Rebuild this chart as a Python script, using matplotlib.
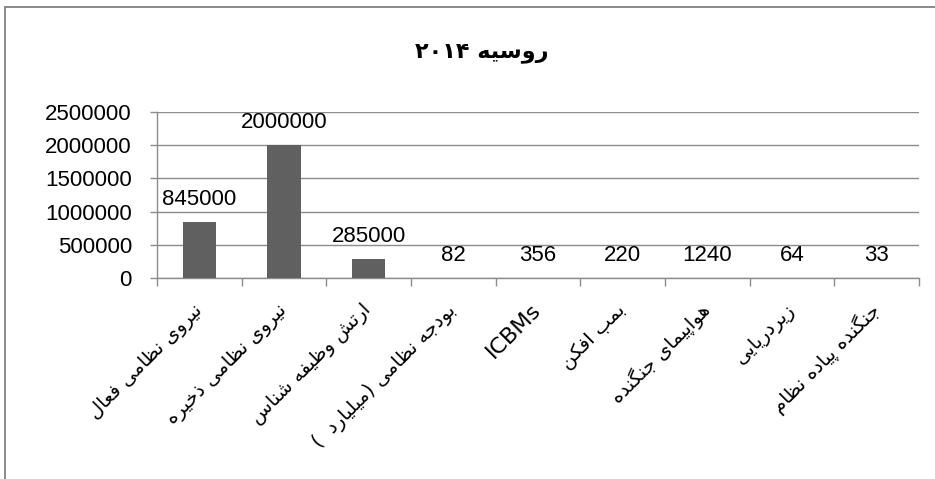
import matplotlib
matplotlib.use("Agg")
import matplotlib.pyplot as plt
from matplotlib.ticker import FixedLocator, NullFormatter, FuncFormatter
from matplotlib.patches import Rectangle

# ---- data -------------------------------------------------------------
title_text = "روسیه ۲۰۱۴"
categories = [
    "نیروی نظامی فعال",
    "نیروی نظامی ذخیره",
    "ارتش وظیفه شناس",
    "بودجه نظامی (میلیارد  )",
    "ICBMs",
    "بمب افکن",
    "هواپیمای جنگنده",
    "زیردریایی",
    "جنگنده پیاده نظام",
]
values = [845000, 2000000, 285000, 82, 356, 220, 1240, 64, 33]
y_ticks = [0, 500000, 1000000, 1500000, 2000000, 2500000]

# ---- minimal Arabic/Persian shaping (matplotlib has no text shaping) ---
# letter -> (isolated, final, initial, medial); None for right-joining only
FORMS = {
    "ا": ("\uFE8D", "\uFE8E", None, None),
    "ب": ("\uFE8F", "\uFE90", "\uFE91", "\uFE92"),
    "پ": ("\uFB56", "\uFB57", "\uFB58", "\uFB59"),
    "ت": ("\uFE95", "\uFE96", "\uFE97", "\uFE98"),
    "ج": ("\uFE9D", "\uFE9E", "\uFE9F", "\uFEA0"),
    "خ": ("\uFEA5", "\uFEA6", "\uFEA7", "\uFEA8"),
    "د": ("\uFEA9", "\uFEAA", None, None),
    "ذ": ("\uFEAB", "\uFEAC", None, None),
    "ر": ("\uFEAD", "\uFEAE", None, None),
    "ز": ("\uFEAF", "\uFEB0", None, None),
    "س": ("\uFEB1", "\uFEB2", "\uFEB3", "\uFEB4"),
    "ش": ("\uFEB5", "\uFEB6", "\uFEB7", "\uFEB8"),
    "ط": ("\uFEC1", "\uFEC2", "\uFEC3", "\uFEC4"),
    "ظ": ("\uFEC5", "\uFEC6", "\uFEC7", "\uFEC8"),
    "ع": ("\uFEC9", "\uFECA", "\uFECB", "\uFECC"),
    "ف": ("\uFED1", "\uFED2", "\uFED3", "\uFED4"),
    "ک": ("\uFB8E", "\uFB8F", "\uFB90", "\uFB91"),
    "گ": ("\uFB92", "\uFB93", "\uFB94", "\uFB95"),
    "ل": ("\uFEDD", "\uFEDE", "\uFEDF", "\uFEE0"),
    "م": ("\uFEE1", "\uFEE2", "\uFEE3", "\uFEE4"),
    "ن": ("\uFEE5", "\uFEE6", "\uFEE7", "\uFEE8"),
    "ه": ("\uFEE9", "\uFEEA", "\uFEEB", "\uFEEC"),
    "و": ("\uFEED", "\uFEEE", None, None),
    "ی": ("\uFBFC", "\uFBFD", "\uFBFE", "\uFBFF"),
}
MIRROR = {"(": ")", ")": "(", "[": "]", "]": "["}


def _dual(ch):
    return ch in FORMS and FORMS[ch][2] is not None


def _shape_run(run):
    out = []
    for i, ch in enumerate(run):
        if ch not in FORMS:
            out.append(ch)
            continue
        prev = run[i - 1] if i > 0 else ""
        nxt = run[i + 1] if i + 1 < len(run) else ""
        join_prev = _dual(prev)
        join_next = _dual(ch) and nxt in FORMS
        iso, fin, ini, med = FORMS[ch]
        if join_prev and join_next:
            out.append(med)
        elif join_prev:
            out.append(fin)
        elif join_next:
            out.append(ini)
        else:
            out.append(iso)
    return "".join(out)


def _is_ltr(ch):
    return (ch.isascii() and ch.isalnum()) or "\u06F0" <= ch <= "\u06F9"


def rtl(text):
    """Shape Persian letters and return the string in visual order."""
    if all(c.isascii() for c in text):
        return text
    shaped = _shape_run(text)
    runs, cur, cur_ltr = [], "", None
    for ch in shaped:
        k = _is_ltr(ch)
        if cur and k != cur_ltr:
            runs.append((cur, cur_ltr))
            cur = ""
        cur += ch
        cur_ltr = k
    if cur:
        runs.append((cur, cur_ltr))
    parts = []
    for r, l in reversed(runs):
        parts.append(r if l else "".join(MIRROR.get(c, c) for c in r[::-1]))
    return "".join(parts)


# ---- figure -----------------------------------------------------------
W, H, DPI = 935, 479, 100
fig = plt.figure(figsize=(W / DPI, H / DPI), dpi=DPI)
fig.patch.set_facecolor("white")

# chart-area border (runs past the right and bottom edges)
fig.add_artist(Rectangle((5 / W, -0.05), 1.2, 1 - 7 / H + 0.05,
                         transform=fig.transFigure, fill=False,
                         edgecolor="#8a8a8a", linewidth=1.4))

L, R, T, B = 157, 919, 112, 278
ax = fig.add_axes([L / W, 1 - B / H, (R - L) / W, (B - T) / H])

grid_c = "#8c8c8c"
x = list(range(len(categories)))
ax.bar(x, values, width=0.39, color="#606060", zorder=3)

ax.set_xlim(-0.5, len(categories) - 0.5)
ax.set_ylim(0, 2500000)
ax.set_yticks(y_ticks)
ax.yaxis.set_major_formatter(FuncFormatter(lambda v, p: f"{int(v)}"))
ax.yaxis.grid(True, color=grid_c, linewidth=1.0, zorder=0)
ax.set_axisbelow(True)

for s in ("top", "right"):
    ax.spines[s].set_visible(False)
for s in ("left", "bottom"):
    ax.spines[s].set_color(grid_c)
    ax.spines[s].set_linewidth(1.0)

ax.tick_params(axis="y", length=5, width=1.0, color=grid_c, pad=13,
               labelsize=16, labelcolor="black")
for lab in ax.get_yticklabels():
    lab.set_fontfamily("Liberation Sans")

# tick marks between categories, labels at category centres
ax.xaxis.set_major_locator(FixedLocator([i - 0.5 for i in range(len(categories) + 1)]))
ax.xaxis.set_major_formatter(NullFormatter())
ax.xaxis.set_minor_locator(FixedLocator(x))
ax.set_xticklabels([rtl(c) for c in categories], minor=True)
ax.tick_params(axis="x", which="major", length=6, width=1.0, color=grid_c,
               direction="out")
ax.tick_params(axis="x", which="minor", length=0, pad=21)
for lab in ax.get_xticklabels(minor=True):
    lab.set_rotation(45)
    lab.set_ha("right")
    lab.set_va("center")
    lab.set_rotation_mode("anchor")
    lab.set_fontfamily("DejaVu Sans")
    lab.set_fontsize(14 if lab.get_text() != "ICBMs" else 16)

# value labels above the bars
for xi, v in zip(x, values):
    ax.annotate(f"{v}", (xi, v), xytext=(0, 8.5), textcoords="offset points",
                ha="center", va="bottom", fontsize=16,
                fontfamily="Liberation Sans", color="black", zorder=4)

fig.text(482 / W, 1 - 53 / H, rtl(title_text), ha="center", va="center",
         fontsize=16, fontweight="bold", fontfamily="DejaVu Sans")

fig.savefig("out.png", dpi=DPI)
